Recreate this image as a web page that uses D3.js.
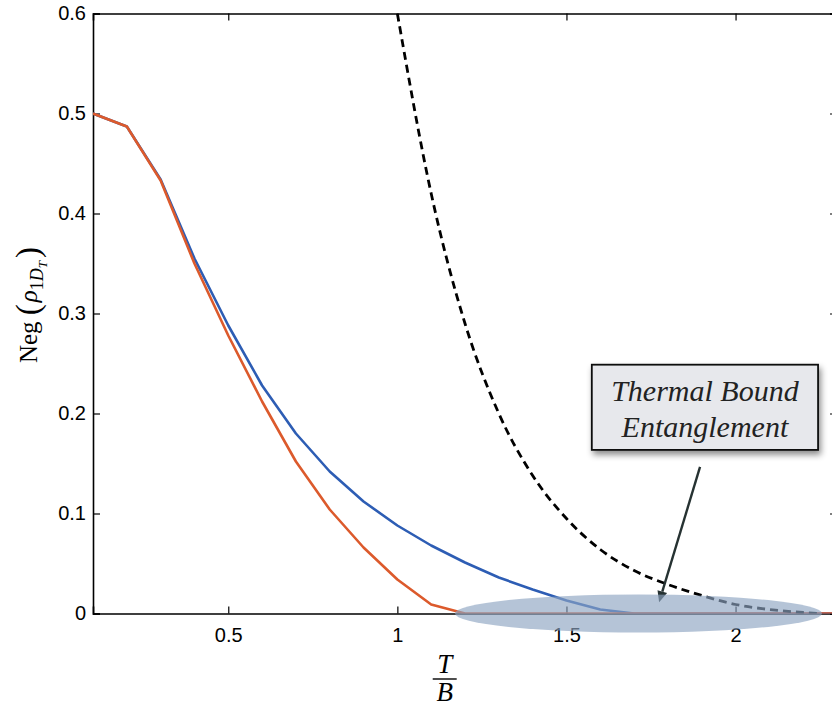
<!DOCTYPE html>
<html>
<head>
<meta charset="utf-8">
<script src="https://cdn.jsdelivr.net/npm/d3@7"></script>
<style>
  body { margin: 0; background: #fff; }
  svg { display: block; }
</style>
</head>
<body>
<div id="chart"></div>
<script>
var width = 832;
var height = 707;

// temperature grid T/B
var tGrid = [0.1, 0.2, 0.3, 0.4, 0.5, 0.6, 0.7, 0.8, 0.9, 1.0, 1.1, 1.2, 1.3, 1.4, 1.5, 1.6, 1.7, 1.8, 1.9, 2.0, 2.1, 2.2, 2.3];
var negBlue = [0.5, 0.487, 0.434, 0.355, 0.288, 0.228, 0.180, 0.142, 0.112, 0.088, 0.068, 0.051, 0.036, 0.024, 0.013, 0.004, 0, 0, 0, 0, 0, 0, 0];
var negRed  = [0.5, 0.487, 0.433, 0.350, 0.278, 0.212, 0.152, 0.104, 0.066, 0.034, 0.009, 0, 0, 0, 0, 0, 0, 0, 0, 0, 0, 0, 0];

// dashed bound
var boundT = [1.0, 1.1, 1.2, 1.3, 1.4, 1.5, 1.6, 1.7, 1.8, 1.9, 2.0, 2.1, 2.2, 2.25];
var boundV = [0.6, 0.42, 0.29, 0.2, 0.138, 0.095, 0.064, 0.043, 0.029, 0.018, 0.009, 0.004, 0.001, 0];

var xTicks = [0.5, 1, 1.5, 2];
var yTicks = [0, 0.1, 0.2, 0.3, 0.4, 0.5, 0.6];

var noteLines = ["Thermal Bound", "Entanglement"];

var margin = {top: 13.5, left: 93, bottom: 93.5};

var x = d3.scaleLinear().domain([0.1, 2.3]).range([margin.left, 837]);
var y = d3.scaleLinear().domain([0, 0.6]).range([height - margin.bottom, margin.top]);

var svg = d3.select("#chart").append("svg")
    .attr("width", width)
    .attr("height", height);

var defs = svg.append("defs");
defs.append("clipPath").attr("id", "plot-clip")
    .append("rect")
    .attr("x", x(0.1)).attr("y", y(0.6))
    .attr("width", x(2.3) - x(0.1)).attr("height", y(0) - y(0.6));

var shadow = defs.append("filter").attr("id", "shadow")
    .attr("x", "-20%").attr("y", "-20%").attr("width", "150%").attr("height", "160%");
shadow.append("feDropShadow")
    .attr("dx", 2).attr("dy", 4).attr("stdDeviation", 3)
    .attr("flood-color", "#000").attr("flood-opacity", 0.45);

var tickFont = "'Liberation Sans', Arial, Helvetica, sans-serif";

// axes, ticks inward on all four sides
var axisBottom = d3.axisBottom(x).tickValues(xTicks).tickSize(-7).tickPadding(14)
    .tickFormat(d => d);
var axisTop = d3.axisTop(x).tickValues(xTicks).tickSize(-7).tickFormat("");
var axisLeft = d3.axisLeft(y).tickValues(yTicks).tickSize(-7).tickPadding(7)
    .tickFormat(d => d);
var axisRight = d3.axisRight(y).tickValues(yTicks).tickSize(-7).tickFormat("");

function styleAxis(g) {
    g.select(".domain").attr("stroke", "#000").attr("stroke-width", 1.6);
    g.selectAll(".tick line").attr("stroke", "#000").attr("stroke-width", 1.2);
    g.selectAll(".tick text")
        .attr("fill", "#000")
        .style("font-family", tickFont)
        .style("font-size", "20px");
}

svg.append("g").attr("transform", `translate(0,${y(0)})`).call(axisBottom).call(styleAxis);
svg.append("g").attr("transform", `translate(0,${y(0.6)})`).call(axisTop).call(styleAxis);
svg.append("g").attr("transform", `translate(${x(0.1)},0)`).call(axisLeft).call(styleAxis);
svg.append("g").attr("transform", `translate(${x(2.3)},0)`).call(axisRight).call(styleAxis);

var line = d3.line().x(d => x(d[0])).y(d => y(d[1]));

var plot = svg.append("g").attr("clip-path", "url(#plot-clip)");

plot.append("path")
    .datum(tGrid.map((t, i) => [t, negBlue[i]]))
    .attr("fill", "none")
    .attr("stroke", "#2d5db4")
    .attr("stroke-width", 2.6)
    .attr("stroke-linejoin", "round")
    .attr("d", line);

plot.append("path")
    .datum(tGrid.map((t, i) => [t, negRed[i]]))
    .attr("fill", "none")
    .attr("stroke", "#dc5a2c")
    .attr("stroke-width", 2.6)
    .attr("stroke-linejoin", "round")
    .attr("d", line);

plot.append("path")
    .datum(boundT.map((t, i) => [t, boundV[i]]))
    .attr("fill", "none")
    .attr("stroke", "#000")
    .attr("stroke-width", 2.8)
    .attr("stroke-dasharray", "8,5")
    .attr("d", line.curve(d3.curveMonotoneX));

// annotation box
var box = {x0: 1.575, x1: 2.244, v0: 0.2488, v1: 0.1636};
svg.append("rect")
    .attr("x", x(box.x0)).attr("y", y(box.v0))
    .attr("width", x(box.x1) - x(box.x0))
    .attr("height", y(box.v1) - y(box.v0))
    .attr("fill", "#e7e8ec")
    .attr("stroke", "#111")
    .attr("stroke-width", 1.8)
    .attr("filter", "url(#shadow)");

svg.append("g").selectAll("text")
    .data(noteLines)
    .join("text")
    .attr("x", x((box.x0 + box.x1) / 2))
    .attr("y", (d, i) => y(box.v0) + 36 + i * 36)
    .attr("text-anchor", "middle")
    .attr("fill", "#222")
    .style("font-family", "'Liberation Serif', 'DejaVu Serif', serif")
    .style("font-style", "italic")
    .style("font-size", "30px")
    .text(d => d);

// arrow
var arrowFrom = [1.895, 0.1466], arrowTo = [1.774, 0.0113];
var ax0 = x(arrowFrom[0]), ay0 = y(arrowFrom[1]), ax1 = x(arrowTo[0]), ay1 = y(arrowTo[1]);
var ang = Math.atan2(ay1 - ay0, ax1 - ax0);
var headLen = 11, headHalf = 5;
var bx = ax1 - headLen * Math.cos(ang), by = ay1 - headLen * Math.sin(ang);
svg.append("line")
    .attr("x1", ax0).attr("y1", ay0).attr("x2", bx).attr("y2", by)
    .attr("stroke", "#263232").attr("stroke-width", 2.4);
svg.append("path")
    .attr("d", d3.line()([
        [ax1, ay1],
        [bx + headHalf * Math.sin(ang), by - headHalf * Math.cos(ang)],
        [bx - headHalf * Math.sin(ang), by + headHalf * Math.cos(ang)]
    ]) + "Z")
    .attr("fill", "#263232");

// shaded region
var ell = {cx: 1.713, cy: 0, rx: 0.5426, ry: 0.019};
svg.append("ellipse")
    .attr("cx", x(ell.cx)).attr("cy", y(ell.cy))
    .attr("rx", x(ell.cx + ell.rx) - x(ell.cx))
    .attr("ry", y(0) - y(ell.ry))
    .attr("fill", "#8ea4c2")
    .attr("opacity", 0.65);

// axis labels
var serif = "'Liberation Serif', 'DejaVu Serif', 'Times New Roman', serif";
var xl = svg.append("g").attr("transform", `translate(${x(1.14)},0)`)
    .style("font-family", serif).style("font-style", "italic").style("font-size", "27px");
xl.append("text").attr("text-anchor", "middle").attr("y", 673).text("T");
xl.append("line").attr("x1", -12).attr("x2", 12).attr("y1", 679).attr("y2", 679)
    .attr("stroke", "#000").attr("stroke-width", 1.4);
xl.append("text").attr("text-anchor", "middle").attr("y", 701).text("B");

var yl = svg.append("text")
    .attr("transform", "translate(37,305) rotate(-90)")
    .attr("text-anchor", "middle")
    .style("font-family", serif)
    .style("font-size", "25px")
    .attr("fill", "#000");
yl.append("tspan").text("Neg ");
yl.append("tspan").style("font-size", "33px").attr("dy", 2).text("(");
yl.append("tspan").style("font-style", "italic").attr("dy", -2).attr("dx", 2).text("ρ");
yl.append("tspan").style("font-size", "18px").attr("dy", 6).text("1");
yl.append("tspan").style("font-size", "18px").style("font-style", "italic").text("D");
yl.append("tspan").style("font-size", "13px").style("font-style", "italic").attr("dy", 4).text("T");
yl.append("tspan").style("font-size", "33px").attr("dy", -8).attr("dx", 3).text(")");
</script>
</body>
</html>
